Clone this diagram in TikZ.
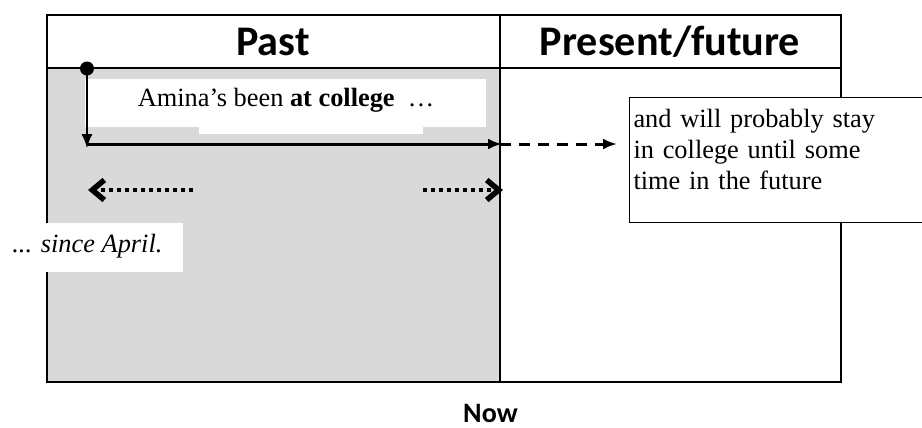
\documentclass[tikz,border=0pt]{standalone}
\usepackage{fontspec}
\setmainfont{Liberation Serif}
\newfontfamily\headfont{Carlito}
\usetikzlibrary{arrows.meta}
\definecolor{pastgrey}{RGB}{217,217,217}

\begin{document}
\begin{tikzpicture}[
	headtext/.style={font=\headfont\bfseries\fontsize{24}{28}\selectfont, anchor=base},
	bodytext/.style={font=\fontsize{15}{17.6}\selectfont},
	solidarrow/.style={-{Latex[length=0.28cm,width=0.22cm]}},
	dotarrow/.style={-{Straight Barb[length=0.24cm,width=0.4cm,line width=0.11cm]}, line width=0.09cm, dash pattern=on 0.08cm off 0.08cm}
	]
		\useasboundingbox (0,0) rectangle (18.44,-8.54);
		
		%Table
		\fill[pastgrey] (0.94,-1.36) rectangle (10.0,-7.64);
		\draw[line width=0.04cm] (0.94,-0.3) rectangle (16.82,-7.64);
		\draw[line width=0.03cm] (0.94,-1.36) -- (16.82,-1.36);
		\draw[line width=0.04cm] (10.0,-0.3) -- (10.0,-7.64);
		
		%Headers
		\node (past) at (5.46,-1.10) [headtext]{Past};
		
		\node (present) at (13.40,-1.10) [headtext]{Present/future};
		
		\node (now) at (9.81,-8.45) [headtext, font=\headfont\bfseries\fontsize{16}{19}\selectfont]{Now};
		
		%Text boxes
		\fill[white] (1.70,-1.58) rectangle (9.72,-2.54);
		\fill[white] (3.98,-2.50) rectangle (8.46,-2.68);
		\node (amina) at (5.72,-2.12) [bodytext, anchor=base]{Amina’s been \textbf{at college}\ \ …};
		
		\fill[white] (-0.1,-4.46) rectangle (3.66,-5.44);
		\node (since) at (0.24,-5.04) [bodytext, anchor=base west, inner sep=0pt]{\textit{... since April.}};
		
		\begin{scope}
		\clip (0,0) rectangle (18.44,-8.54);
		\node (future) at (12.58,-1.94) [draw, line width=0.02cm, fill=white, anchor=north west, 
		text width=6.2cm, inner xsep=0.08cm, inner ysep=0.24cm, text depth=1.66cm, 
		align=left, bodytext]{and will probably stay\\in college until some\\time in the future};
		\end{scope}
		
		%Links
		\node (start) at (1.74,-1.37) [circle, fill, inner sep=0pt, minimum size=0.28cm]{};
		
		\coordinate (startdown) at (1.74,-2.96);
		\coordinate (startline) at (1.74,-2.88);
		\coordinate (nowline) at (10.04,-2.88);
		\coordinate (nowdash) at (10.0,-2.88);
		\coordinate (futuredash) at (12.34,-2.88);
		
		\draw[solidarrow, line width=0.025cm] (start.center) -- (startdown);
		
		\draw[solidarrow, line width=0.06cm] (startline) -- (nowline);
		
		\draw[solidarrow, line width=0.06cm, dash pattern=on 0.22cm off 0.16cm] (nowdash) -- (futuredash);
		
		%Dotted arrows
		\coordinate (leftdots) at (3.86,-3.80);
		\coordinate (leftend) at (1.76,-3.80);
		\coordinate (rightdots) at (8.46,-3.80);
		\coordinate (rightend) at (10.06,-3.80);
		
		\draw[dotarrow] (leftdots) -- (leftend);
		
		\draw[dotarrow] (rightdots) -- (rightend);
		
\end{tikzpicture}
\end{document}
